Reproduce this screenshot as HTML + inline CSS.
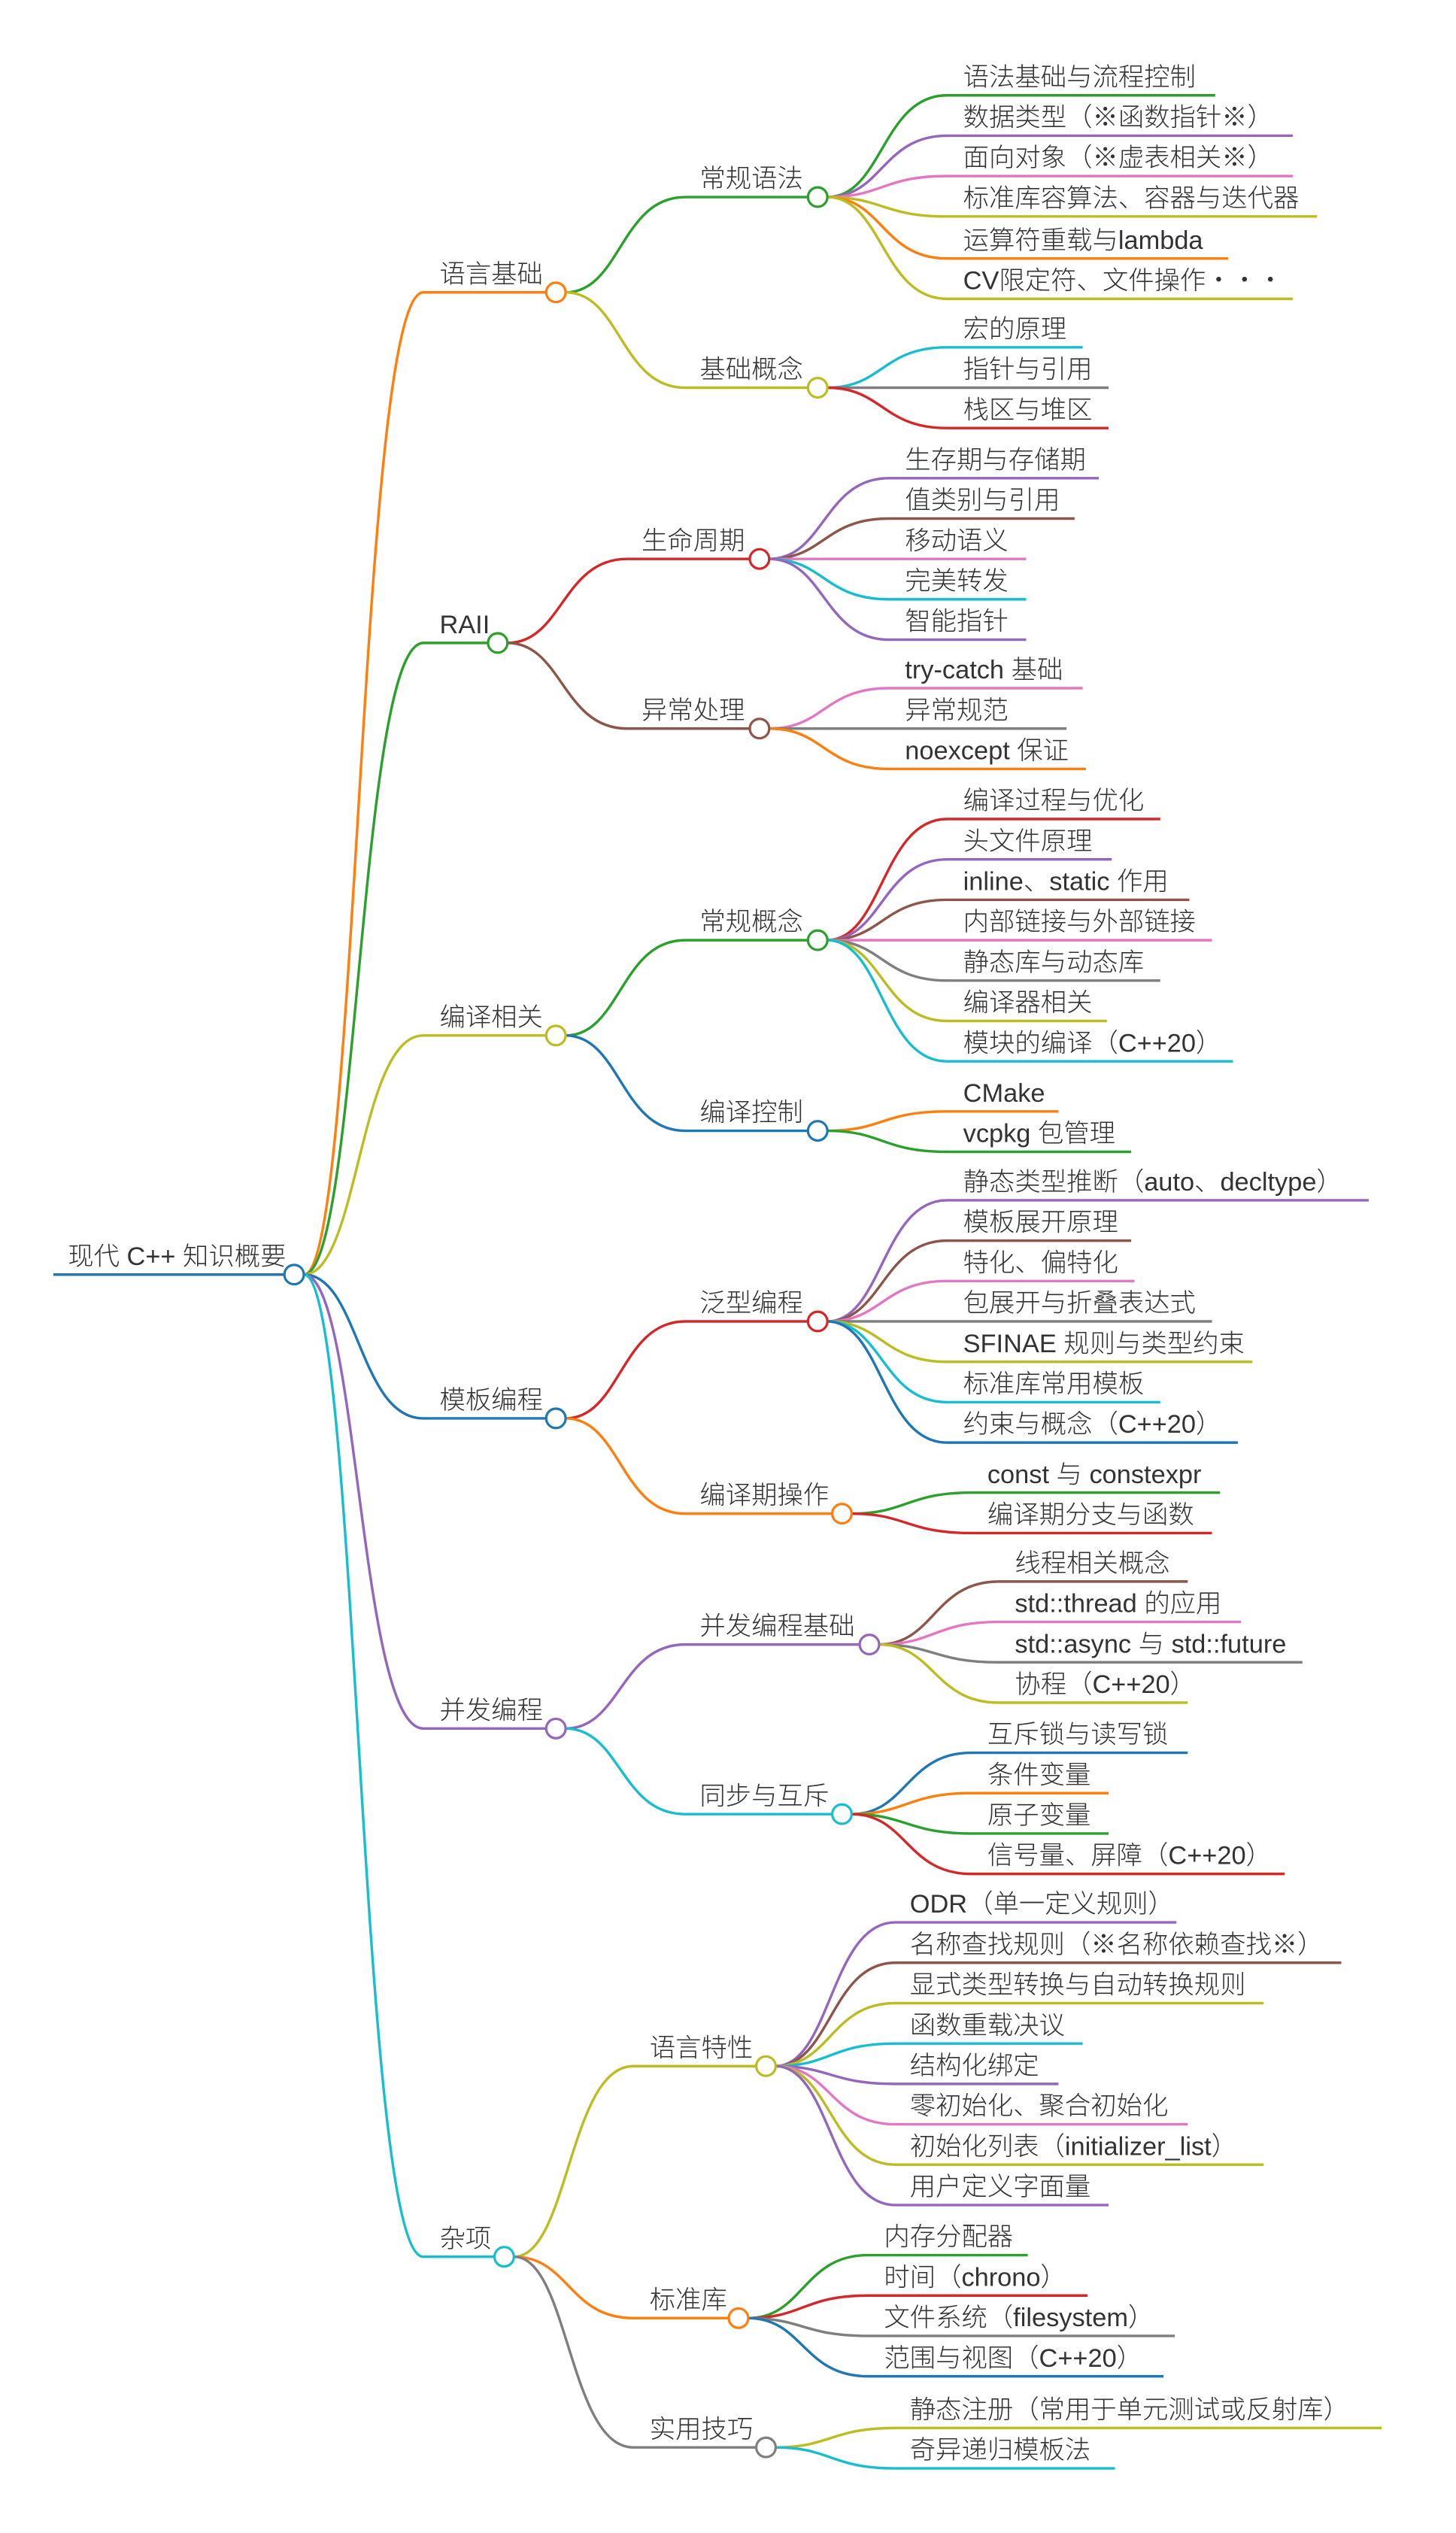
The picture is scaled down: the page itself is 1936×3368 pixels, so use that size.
<!DOCTYPE html>
<html><head><meta charset="utf-8"><style>
html,body{margin:0;padding:0;background:#fff}
svg{display:block}
text{font-family:"Liberation Sans","Noto Sans CJK SC",sans-serif;font-size:16px;fill:#333;font-weight:300}
path{fill:none;stroke-width:1.6}
circle{fill:#fff;stroke-width:1.5}
</style></head><body>
<svg width="1936" height="3368" viewBox="0 0 901 1568" preserveAspectRatio="none" xmlns="http://www.w3.org/2000/svg">
<!-- root -->
<path d="M33 789 L176 789" stroke="#1f77b4" stroke-width="2.5"/>
<text x="42" y="783">现代 C++ 知识概要</text>
<path d="M188 789 C222 789 222 181 262 181 L338 181" stroke="#ff7f0e"/>
<path d="M188 789 C222 789 222 398 262 398 L302 398" stroke="#2ca02c"/>
<path d="M188 789 C222 789 222 641 262 641 L338 641" stroke="#bcbd22"/>
<path d="M188 789 C222 789 222 878 262 878 L338 878" stroke="#1f77b4"/>
<path d="M188 789 C222 789 222 1070 262 1070 L338 1070" stroke="#9467bd"/>
<path d="M188 789 C222 789 222 1397 262 1397 L306 1397" stroke="#17becf"/>
<text x="272" y="175">语言基础</text>
<text x="272" y="392">RAII</text>
<text x="272" y="635">编译相关</text>
<text x="272" y="872">模板编程</text>
<text x="272" y="1064">并发编程</text>
<text x="272" y="1391">杂项</text>

<!-- 语言基础 -->
<path d="M350 181 C384 181 384 122 424 122 L500 122" stroke="#2ca02c"/>
<path d="M350 181 C384 181 384 240 424 240 L500 240" stroke="#bcbd22"/>
<text x="433" y="116">常规语法</text>
<text x="433" y="234">基础概念</text>
<path d="M512 122 C546 122 546 59 586 59 L752 59" stroke="#2ca02c"/>
<path d="M512 122 C546 122 546 84 586 84 L800 84" stroke="#9467bd"/>
<path d="M512 122 C546 122 546 109 586 109 L800 109" stroke="#e377c2"/>
<path d="M512 122 C546 122 546 134 586 134 L815 134" stroke="#bcbd22"/>
<path d="M512 122 C546 122 546 160 586 160 L760 160" stroke="#ff7f0e"/>
<path d="M512 122 C546 122 546 185 586 185 L800 185" stroke="#bcbd22"/>
<text x="596" y="53">语法基础与流程控制</text>
<text x="596" y="78">数据类型（※函数指针※）</text>
<text x="596" y="103">面向对象（※虚表相关※）</text>
<text x="596" y="128">标准库容算法、容器与迭代器</text>
<text x="596" y="154">运算符重载与lambda</text>
<text x="596" y="179">CV限定符、文件操作・・・</text>
<path d="M512 240 C546 240 546 215 586 215 L670 215" stroke="#17becf"/>
<path d="M512 240 C546 240 546 240 586 240 L686 240" stroke="#7f7f7f"/>
<path d="M512 240 C546 240 546 265 586 265 L686 265" stroke="#d62728"/>
<text x="596" y="209">宏的原理</text>
<text x="596" y="234">指针与引用</text>
<text x="596" y="259">栈区与堆区</text>

<!-- RAII -->
<path d="M314 398 C348 398 348 346 388 346 L464 346" stroke="#d62728"/>
<path d="M314 398 C348 398 348 451 388 451 L464 451" stroke="#8c564b"/>
<text x="397" y="340">生命周期</text>
<text x="397" y="445">异常处理</text>
<path d="M476 346 C510 346 510 296 550 296 L680 296" stroke="#9467bd"/>
<path d="M476 346 C510 346 510 321 550 321 L665 321" stroke="#8c564b"/>
<path d="M476 346 C510 346 510 346 550 346 L635 346" stroke="#e377c2"/>
<path d="M476 346 C510 346 510 371 550 371 L635 371" stroke="#17becf"/>
<path d="M476 346 C510 346 510 396 550 396 L635 396" stroke="#9467bd"/>
<text x="560" y="290">生存期与存储期</text>
<text x="560" y="315">值类别与引用</text>
<text x="560" y="340">移动语义</text>
<text x="560" y="365">完美转发</text>
<text x="560" y="390">智能指针</text>
<path d="M476 451 C510 451 510 426 550 426 L670 426" stroke="#e377c2"/>
<path d="M476 451 C510 451 510 451 550 451 L660 451" stroke="#7f7f7f"/>
<path d="M476 451 C510 451 510 476 550 476 L672 476" stroke="#ff7f0e"/>
<text x="560" y="420">try-catch 基础</text>
<text x="560" y="445">异常规范</text>
<text x="560" y="470">noexcept 保证</text>

<!-- 编译相关 -->
<path d="M350 641 C384 641 384 582 424 582 L500 582" stroke="#2ca02c"/>
<path d="M350 641 C384 641 384 700 424 700 L500 700" stroke="#1f77b4"/>
<text x="433" y="576">常规概念</text>
<text x="433" y="694">编译控制</text>
<path d="M512 582 C546 582 546 507 586 507 L718 507" stroke="#d62728"/>
<path d="M512 582 C546 582 546 532 586 532 L688 532" stroke="#9467bd"/>
<path d="M512 582 C546 582 546 557 586 557 L736 557" stroke="#8c564b"/>
<path d="M512 582 C546 582 546 582 586 582 L750 582" stroke="#e377c2"/>
<path d="M512 582 C546 582 546 607 586 607 L718 607" stroke="#7f7f7f"/>
<path d="M512 582 C546 582 546 632 586 632 L685 632" stroke="#bcbd22"/>
<path d="M512 582 C546 582 546 657 586 657 L763 657" stroke="#17becf"/>
<text x="596" y="501">编译过程与优化</text>
<text x="596" y="526">头文件原理</text>
<text x="596" y="551">inline、static 作用</text>
<text x="596" y="576">内部链接与外部链接</text>
<text x="596" y="601">静态库与动态库</text>
<text x="596" y="626">编译器相关</text>
<text x="596" y="651">模块的编译（C++20）</text>
<path d="M512 700 C546 700 546 688 586 688 L655 688" stroke="#ff7f0e"/>
<path d="M512 700 C546 700 546 713 586 713 L700 713" stroke="#2ca02c"/>
<text x="596" y="682">CMake</text>
<text x="596" y="707">vcpkg 包管理</text>

<!-- 模板编程 -->
<path d="M350 878 C384 878 384 818 424 818 L500 818" stroke="#d62728"/>
<path d="M350 878 C384 878 384 937 424 937 L515 937" stroke="#ff7f0e"/>
<text x="433" y="812">泛型编程</text>
<text x="433" y="931">编译期操作</text>
<path d="M512 818 C546 818 546 743 586 743 L847 743" stroke="#9467bd"/>
<path d="M512 818 C546 818 546 768 586 768 L700 768" stroke="#8c564b"/>
<path d="M512 818 C546 818 546 793 586 793 L702 793" stroke="#e377c2"/>
<path d="M512 818 C546 818 546 818 586 818 L750 818" stroke="#7f7f7f"/>
<path d="M512 818 C546 818 546 843 586 843 L775 843" stroke="#bcbd22"/>
<path d="M512 818 C546 818 546 868 586 868 L718 868" stroke="#17becf"/>
<path d="M512 818 C546 818 546 893 586 893 L766 893" stroke="#1f77b4"/>
<text x="596" y="737">静态类型推断（auto、decltype）</text>
<text x="596" y="762">模板展开原理</text>
<text x="596" y="787">特化、偏特化</text>
<text x="596" y="812">包展开与折叠表达式</text>
<text x="596" y="837">SFINAE 规则与类型约束</text>
<text x="596" y="862">标准库常用模板</text>
<text x="596" y="887">约束与概念（C++20）</text>
<path d="M527 937 C561 937 561 924 601 924 L755 924" stroke="#2ca02c"/>
<path d="M527 937 C561 937 561 949 601 949 L750 949" stroke="#d62728"/>
<text x="611" y="918">const 与 constexpr</text>
<text x="611" y="943">编译期分支与函数</text>

<!-- 并发编程 -->
<path d="M350 1070 C384 1070 384 1018 424 1018 L532 1018" stroke="#9467bd"/>
<path d="M350 1070 C384 1070 384 1123 424 1123 L515 1123" stroke="#17becf"/>
<text x="433" y="1012">并发编程基础</text>
<text x="433" y="1117">同步与互斥</text>
<path d="M544 1018 C578 1018 578 979 618 979 L735 979" stroke="#8c564b"/>
<path d="M544 1018 C578 1018 578 1004 618 1004 L768 1004" stroke="#e377c2"/>
<path d="M544 1018 C578 1018 578 1029 618 1029 L806 1029" stroke="#7f7f7f"/>
<path d="M544 1018 C578 1018 578 1054 618 1054 L735 1054" stroke="#bcbd22"/>
<text x="628" y="973">线程相关概念</text>
<text x="628" y="998">std::thread 的应用</text>
<text x="628" y="1023">std::async 与 std::future</text>
<text x="628" y="1048">协程（C++20）</text>
<path d="M527 1123 C561 1123 561 1085 601 1085 L735 1085" stroke="#1f77b4"/>
<path d="M527 1123 C561 1123 561 1110 601 1110 L686 1110" stroke="#ff7f0e"/>
<path d="M527 1123 C561 1123 561 1135 601 1135 L686 1135" stroke="#2ca02c"/>
<path d="M527 1123 C561 1123 561 1160 601 1160 L795 1160" stroke="#d62728"/>
<text x="611" y="1079">互斥锁与读写锁</text>
<text x="611" y="1104">条件变量</text>
<text x="611" y="1129">原子变量</text>
<text x="611" y="1154">信号量、屏障（C++20）</text>

<!-- 杂项 -->
<path d="M318 1397 C352 1397 352 1279 392 1279 L468 1279" stroke="#bcbd22"/>
<path d="M318 1397 C352 1397 352 1435 392 1435 L451 1435" stroke="#ff7f0e"/>
<path d="M318 1397 C352 1397 352 1515 392 1515 L468 1515" stroke="#7f7f7f"/>
<text x="402" y="1273">语言特性</text>
<text x="402" y="1429">标准库</text>
<text x="402" y="1509">实用技巧</text>
<path d="M480 1279 C514 1279 514 1190 554 1190 L728 1190" stroke="#9467bd"/>
<path d="M480 1279 C514 1279 514 1215 554 1215 L830 1215" stroke="#8c564b"/>
<path d="M480 1279 C514 1279 514 1240 554 1240 L782 1240" stroke="#bcbd22"/>
<path d="M480 1279 C514 1279 514 1265 554 1265 L670 1265" stroke="#17becf"/>
<path d="M480 1279 C514 1279 514 1290 554 1290 L655 1290" stroke="#9467bd"/>
<path d="M480 1279 C514 1279 514 1315 554 1315 L735 1315" stroke="#e377c2"/>
<path d="M480 1279 C514 1279 514 1340 554 1340 L782 1340" stroke="#bcbd22"/>
<path d="M480 1279 C514 1279 514 1365 554 1365 L686 1365" stroke="#9467bd"/>
<text x="563" y="1184">ODR（单一定义规则）</text>
<text x="563" y="1209">名称查找规则（※名称依赖查找※）</text>
<text x="563" y="1234">显式类型转换与自动转换规则</text>
<text x="563" y="1259">函数重载决议</text>
<text x="563" y="1284">结构化绑定</text>
<text x="563" y="1309">零初始化、聚合初始化</text>
<text x="563" y="1334">初始化列表（initializer_list）</text>
<text x="563" y="1359">用户定义字面量</text>
<path d="M463 1435 C497 1435 497 1396 537 1396 L636 1396" stroke="#2ca02c"/>
<path d="M463 1435 C497 1435 497 1421 537 1421 L673 1421" stroke="#d62728"/>
<path d="M463 1435 C497 1435 497 1446 537 1446 L727 1446" stroke="#7f7f7f"/>
<path d="M463 1435 C497 1435 497 1471 537 1471 L720 1471" stroke="#1f77b4"/>
<text x="547" y="1390">内存分配器</text>
<text x="547" y="1415">时间（chrono）</text>
<text x="547" y="1440">文件系统（filesystem）</text>
<text x="547" y="1465">范围与视图（C++20）</text>
<path d="M480 1515 C514 1515 514 1503 554 1503 L855 1503" stroke="#bcbd22"/>
<path d="M480 1515 C514 1515 514 1528 554 1528 L690 1528" stroke="#17becf"/>
<text x="563" y="1497">静态注册（常用于单元测试或反射库）</text>
<text x="563" y="1522">奇异递归模板法</text>

<!-- circles -->
<circle cx="182" cy="789" r="6" stroke="#1f77b4" stroke-width="2"/>
<circle cx="344" cy="181" r="6" stroke="#ff7f0e"/>
<circle cx="308" cy="398" r="6" stroke="#2ca02c"/>
<circle cx="344" cy="641" r="6" stroke="#bcbd22"/>
<circle cx="344" cy="878" r="6" stroke="#1f77b4"/>
<circle cx="344" cy="1070" r="6" stroke="#9467bd"/>
<circle cx="312" cy="1397" r="6" stroke="#17becf"/>
<circle cx="506" cy="122" r="6" stroke="#2ca02c"/>
<circle cx="506" cy="240" r="6" stroke="#bcbd22"/>
<circle cx="470" cy="346" r="6" stroke="#d62728"/>
<circle cx="470" cy="451" r="6" stroke="#8c564b"/>
<circle cx="506" cy="582" r="6" stroke="#2ca02c"/>
<circle cx="506" cy="700" r="6" stroke="#1f77b4"/>
<circle cx="506" cy="818" r="6" stroke="#d62728"/>
<circle cx="521" cy="937" r="6" stroke="#ff7f0e"/>
<circle cx="538" cy="1018" r="6" stroke="#9467bd"/>
<circle cx="521" cy="1123" r="6" stroke="#17becf"/>
<circle cx="474" cy="1279" r="6" stroke="#bcbd22"/>
<circle cx="457" cy="1435" r="6" stroke="#ff7f0e"/>
<circle cx="474" cy="1515" r="6" stroke="#7f7f7f"/>
</svg>
</body></html>
